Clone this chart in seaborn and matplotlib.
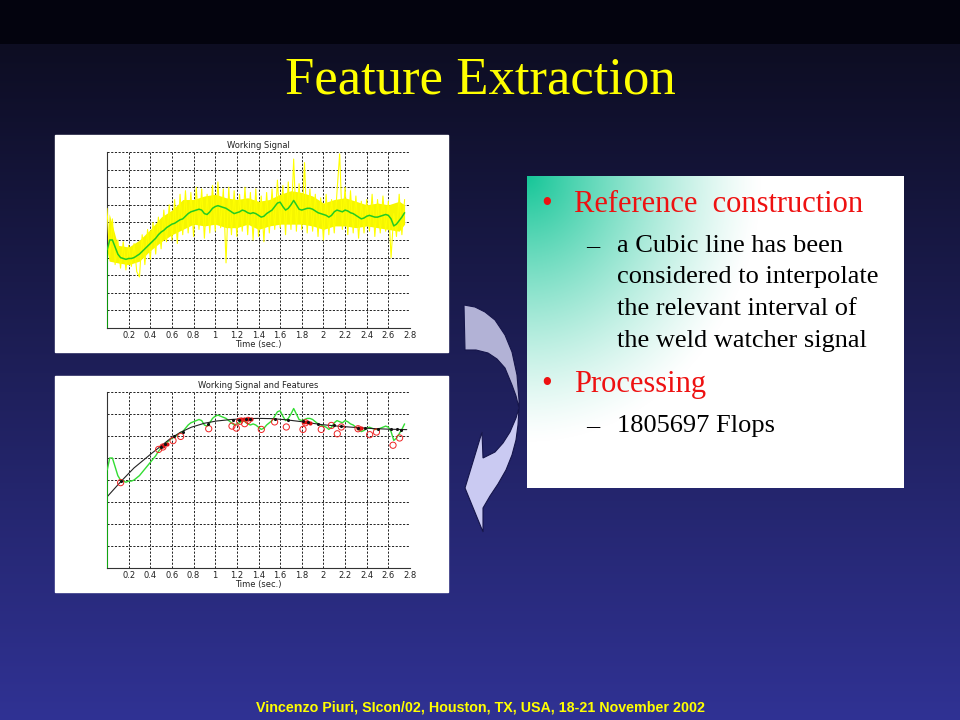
import numpy as np
import matplotlib
matplotlib.use("Agg")
import matplotlib.pyplot as plt
from matplotlib.patches import Polygon, Rectangle
import seaborn as sns

sns.set_style("white")

W, H = 960, 720

# ---- data (y in grid divisions) ----
t_step = 0.025  # signal samples
green = [4.4, 5.0, 5.0, 4.6, 4.2, 4.0, 3.95, 3.9, 3.95, 3.95,
         4.0, 4.1, 4.2, 4.35, 4.5, 4.65, 4.8, 4.95, 5.1, 5.3,
         5.45, 5.55, 5.7, 5.8, 5.9, 5.95, 6.05, 6.15, 6.2, 6.35,
         6.5, 6.6, 6.65, 6.7, 6.75, 6.7, 6.5, 6.45, 6.6, 6.8,
         6.9, 6.95, 6.9, 6.85, 6.8, 6.7, 6.6, 6.5, 6.55, 6.6,
         6.7, 6.65, 6.55, 6.5, 6.55, 6.5, 6.4, 6.3, 6.35, 6.5,
         6.6, 6.7, 6.9, 7.1, 7.15, 6.9, 6.7, 6.8, 7.0, 7.25,
         7.0, 6.75, 6.7, 6.75, 6.8, 6.8, 6.75, 6.65, 6.55, 6.5,
         6.45, 6.4, 6.3, 6.4, 6.6, 6.7, 6.65, 6.6, 6.7, 6.65,
         6.55, 6.5, 6.4, 6.3, 6.2, 6.25, 6.35, 6.4, 6.35, 6.3,
         6.3, 6.35, 6.4, 6.45, 6.4, 6.2, 5.8, 5.9, 6.1, 6.3,
         6.55]
yellow = [6.8, 4.0, 6.2, 3.6, 5.0, 3.4, 4.9, 3.3, 4.7, 3.5,
          4.8, 3.2, 2.9, 5.3, 3.6, 5.6, 3.9, 6.0, 4.2, 6.3,
          4.5, 6.7, 4.9, 7.0, 5.0, 7.3, 4.8, 7.6, 5.3, 7.8,
          5.4, 7.7, 5.2, 8.0, 5.6, 7.9, 5.1, 7.6, 5.4, 8.1,
          5.5, 8.3, 5.7, 7.9, 3.7, 8.0, 5.3, 7.8, 5.2, 7.6,
          5.5, 8.0, 5.3, 7.7, 5.0, 7.9, 5.2, 7.5, 4.9, 7.7,
          5.4, 7.9, 5.6, 8.4, 5.7, 8.1, 5.3, 8.3, 5.6, 9.6,
          5.5, 8.2, 5.6, 9.4, 5.4, 7.9, 5.5, 7.6, 5.2, 7.4,
          5.0, 7.6, 5.3, 7.3, 5.4, 7.7, 9.9, 5.6, 8.0, 5.3,
          7.8, 5.4, 7.5, 5.1, 7.2, 5.4, 7.3, 5.5, 7.6, 5.2,
          7.3, 5.4, 7.5, 5.5, 7.2, 4.0, 6.5, 5.2, 7.6, 5.3,
          7.3]
t_sig = np.arange(len(green)) * t_step

# yellow band envelope
env_t = [0.0, 0.02, 0.1, 0.2, 0.3, 0.4, 0.5, 0.6, 0.7, 0.8, 0.9, 1.0, 1.1, 1.2, 1.3,
         1.4, 1.5, 1.6, 1.7, 1.8, 1.9, 2.0, 2.1, 2.2, 2.3, 2.4, 2.5, 2.6, 2.7, 2.75]
env_hi = [4.4, 6.5, 4.7, 4.6, 5.0, 5.6, 6.3, 6.7, 7.3, 7.3, 7.5, 7.6, 7.4, 7.3, 7.4,
          7.2, 7.3, 7.6, 7.8, 7.7, 7.5, 7.1, 7.3, 7.4, 7.2, 7.0, 7.1, 7.0, 7.2, 7.0]
env_lo = [4.4, 3.8, 3.7, 3.6, 3.8, 4.4, 4.9, 5.3, 5.6, 5.9, 5.8, 5.9, 5.7, 5.7, 5.9,
          5.6, 5.8, 5.9, 5.9, 5.9, 5.8, 5.6, 5.8, 5.8, 5.7, 5.8, 5.7, 5.6, 5.5, 5.9]

onset_t = [0.0, 0.0]
onset_y = [0.0, 4.4]

# cubic reference line
cubic_t = [0, 0.13, 0.25, 0.41, 0.5, 0.59, 0.68, 0.78, 0.9, 1.01, 1.15, 1.27, 1.4,
           1.52, 1.65, 1.8, 1.98, 2.15, 2.29, 2.45, 2.6, 2.77]
cubic_y = [3.23, 3.94, 4.55, 5.2, 5.55, 5.9, 6.17, 6.4, 6.58, 6.68, 6.75, 6.79, 6.8,
           6.79, 6.74, 6.65, 6.52, 6.44, 6.39, 6.34, 6.31, 6.29]

# features
circ_t = [0.126, 0.477, 0.517, 0.61, 0.681, 0.94, 1.155, 1.195, 1.226, 1.272, 1.303,
          1.426, 1.549, 1.657, 1.811, 1.833, 1.98, 2.073, 2.128, 2.165, 2.32, 2.427,
          2.49, 2.643, 2.704]
circ_y = [3.88, 5.39, 5.5, 5.79, 5.98, 6.33, 6.45, 6.36, 6.67, 6.56, 6.71, 6.3, 6.64,
          6.41, 6.3, 6.6, 6.3, 6.48, 6.1, 6.41, 6.33, 6.06, 6.18, 5.58, 5.91]
dot_t = [0.126, 0.5, 0.54, 0.62, 0.7, 0.93, 1.16, 1.22, 1.28, 1.32, 1.55, 1.67, 1.81,
         1.86, 1.95, 2.1, 2.16, 2.32, 2.38, 2.5, 2.62, 2.68, 2.72]
dot_y = [3.94, 5.5, 5.62, 5.98, 6.2, 6.55, 6.73, 6.75, 6.77, 6.78, 6.79, 6.75, 6.66,
         6.63, 6.55, 6.5, 6.46, 6.38, 6.36, 6.33, 6.3, 6.3, 6.29]
redfill_t = [0.52, 0.55, 1.24, 1.27, 1.3, 1.33, 1.82, 1.85, 1.88, 2.32, 2.35]
redfill_y = [5.55, 5.65, 6.76, 6.77, 6.78, 6.78, 6.65, 6.63, 6.61, 6.38, 6.37]

x_ticks = [0.2, 0.4, 0.6, 0.8, 1.0, 1.2, 1.4, 1.6, 1.8, 2.0, 2.2, 2.4, 2.6, 2.8]
x_labels = ["0.2", "0.4", "0.6", "0.8", "1", "1.2", "1.4", "1.6", "1.8", "2",
            "2.2", "2.4", "2.6", "2.8"]

bullets = [("Reference  construction", 212), ("Processing", 392)]
sub_lines = [("a Cubic line has been", 252, True), ("considered to interpolate", 283.5, False),
             ("the relevant interval of", 315, False), ("the weld watcher signal", 346.5, False),
             ("1805697 Flops", 432, True)]


def px(x0, y0, x1, y1):
    return [x0 / W, 1 - y1 / H, (x1 - x0) / W, (y1 - y0) / H]


fig = plt.figure(figsize=(9.6, 7.2), dpi=100)

# background
bg = fig.add_axes([0, 0, 1, 1])
rows = np.zeros((H, 1, 3))
for r in range(H):
    if r < 44:
        rows[r, 0] = (3, 3, 14)
    else:
        f = (r - 44) / (H - 44)
        rows[r, 0] = (13 + 35 * f, 13 + 37 * f, 34 + 114 * f)
bg.imshow(rows / 255, aspect="auto", extent=[0, W, H, 0])
bg.add_patch(Rectangle((55, 135), 393, 217, color="white"))
bg.add_patch(Rectangle((55, 376), 393, 216, color="white"))
bg.set_xlim(0, W)
bg.set_ylim(H, 0)
bg.set_axis_off()


def style_axes(ax, ny, title):
    ax.set_xlim(0, 2.8)
    ax.set_ylim(0, ny)
    ax.set_xticks(x_ticks)
    ax.set_xticklabels(x_labels)
    ax.set_yticks(range(ny + 1))
    ax.grid(True, color="#222222", linestyle=(0, (2.2, 1.6)), linewidth=0.7)
    ax.tick_params(axis="x", direction="in", length=2, labelsize=6, pad=2,
                   labelcolor="#222222")
    ax.tick_params(axis="y", length=0, labelleft=False)
    for s in ["top", "right"]:
        ax.spines[s].set_visible(False)
    for s in ["left", "bottom"]:
        ax.spines[s].set_color("#333333")
        ax.spines[s].set_linewidth(0.8)
        ax.spines[s].set_zorder(1)
    ax.set_title(title, fontsize=6, pad=3, color="#222222")
    ax.set_xlabel("Time (sec.)", fontsize=6, labelpad=0, color="#222222")
    ax.set_ylabel("")
    ax.set_facecolor("white")


# plot 1: working signal
ax1 = fig.add_axes(px(107, 152, 410, 328))
ax1.fill_between(env_t, env_lo, env_hi, color="#f6f600", linewidth=0)
sns.lineplot(x=t_sig, y=yellow, ax=ax1, color="#ffff00", linewidth=0.8,
             estimator=None, sort=False)
sns.lineplot(x=t_sig, y=green, ax=ax1, color="#22cc22", linewidth=1.1,
             estimator=None, sort=False)
sns.lineplot(x=onset_t, y=onset_y, ax=ax1, color="#0a9a0a", linewidth=1.4,
             estimator=None, sort=False, zorder=5)
style_axes(ax1, 10, "Working Signal")

# plot 2: signal and features
ax2 = fig.add_axes(px(107, 392, 410, 568))
sns.lineplot(x=t_sig, y=green, ax=ax2, color="#33dd33", linewidth=1.0,
             estimator=None, sort=False)
sns.lineplot(x=onset_t, y=onset_y, ax=ax2, color="#11aa11", linewidth=1.4,
             estimator=None, sort=False, zorder=5)
sns.lineplot(x=cubic_t, y=cubic_y, ax=ax2, color="#222222", linewidth=0.8,
             estimator=None, sort=False)
sns.scatterplot(x=redfill_t, y=redfill_y, ax=ax2, color="#dd1111", s=9,
                linewidth=0, zorder=4)
sns.scatterplot(x=circ_t, y=circ_y, ax=ax2, facecolor="none", edgecolor="#ee2222",
                s=20, linewidth=0.7, zorder=5)
sns.scatterplot(x=dot_t, y=dot_y, ax=ax2, color="#111111", s=5, linewidth=0,
                zorder=6)
style_axes(ax2, 8, "Working Signal and Features")

# text box with teal gradient
tb = fig.add_axes(px(527, 176, 904, 488))
gh, gw = 312, 377
vv, uu = np.mgrid[0:gh, 0:gw]
d = np.sqrt((uu / gw / 0.62) ** 2 + (vv / gh / 0.85) ** 2)
wgt = np.clip(1 - d, 0, 1) ** 1.25
teal = np.array([22, 198, 152]) / 255
grad = (1 - wgt[..., None]) * 1.0 + wgt[..., None] * teal
tb.imshow(grad, aspect="auto", extent=[0, gw, gh, 0])
tb.set_axis_off()

# overlay for texts and arrow
top = fig.add_axes([0, 0, 1, 1])
top.set_xlim(0, W)
top.set_ylim(H, 0)
top.set_axis_off()

serif = "Liberation Serif"
top.text(480, 93, "Feature Extraction", color="#ffff00", fontsize=38,
         family=serif, ha="center", va="baseline")
top.text(480, 707, "Vincenzo Piuri, SIcon/02, Houston, TX, USA, 18-21 November 2002",
         color="#ffff00", fontsize=10.3, fontweight="bold", family="Liberation Sans",
         ha="center", va="center")

for txt, yb in bullets:
    top.text(541, yb, "\u2022", color="#ee1111", fontsize=22, family=serif,
             va="baseline")
    top.text(574, yb, txt, color="#ee1111", fontsize=22, family=serif, va="baseline")
for txt, yb, dash in sub_lines:
    if dash:
        top.text(586, yb, "\u2013", color="black", fontsize=19, family=serif,
                 va="baseline")
    top.text(617, yb, txt, color="black", fontsize=19, family=serif, va="baseline")

# curved arrow
upper = [(464, 305), (475, 307), (485, 312), (495, 320), (505, 335), (512, 352),
         (517, 375), (519, 400), (519, 408), (516, 396), (512, 385), (505, 368),
         (497, 359), (488, 353), (476, 350), (465, 350)]
lower = [(519, 408), (518, 425), (516, 440), (512, 455), (506, 470), (498, 484),
         (490, 496), (483, 508), (483, 532), (465, 488), (482, 432), (483, 458),
         (495, 452), (503, 443), (510, 432), (516, 418)]
top.add_patch(Polygon(upper, closed=True, facecolor="#b2b2d6", edgecolor="#15154a",
                      linewidth=0.8))
top.add_patch(Polygon(lower, closed=True, facecolor="#cacaf2", edgecolor="#15154a",
                      linewidth=0.8))

fig.savefig("out.png", dpi=100)
